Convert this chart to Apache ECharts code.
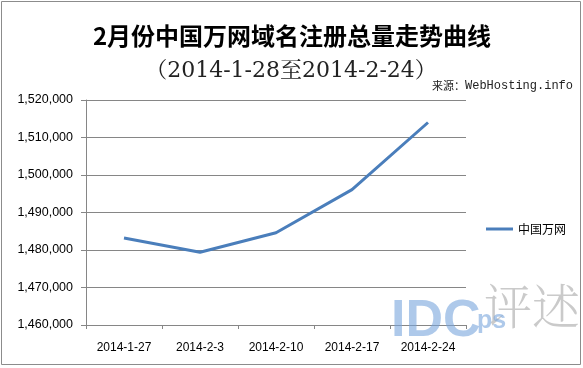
<!DOCTYPE html>
<html>
<head>
<meta charset="utf-8">
<script src="https://cdn.jsdelivr.net/npm/echarts@6/dist/echarts.min.js"></script>
<style>
html,body{margin:0;padding:0;background:#fff;}
#chart{width:583px;height:368px;}
</style>
</head>
<body>
<div id="chart"></div>
<script>
var categories = ['2014-1-27', '2014-2-3', '2014-2-10', '2014-2-17', '2014-2-24'];
var seriesName = '中国万网';
var values = [1483200, 1479400, 1484600, 1496100, 1514000];
var yMin = 1460000;
var yMax = 1520000;
var yStep = 10000;
var titleText = '2月份中国万网域名注册总量走势曲线';
var subtitleText = '（2014-1-28至2014-2-24）';
var sourceLabel = '来源：';
var sourceSite = 'WebHosting.info';

var chart = echarts.init(document.getElementById('chart'), null, {renderer: 'canvas'});
function fmt(v) { return String(v).replace(/\B(?=(\d{3})+(?!\d))/g, ','); }

chart.setOption({
  backgroundColor: '#ffffff',
  animation: false,
  title: [
    {text: titleText, left: 292, textAlign: 'center', top: 24, padding: 0,
     textStyle: {fontFamily: '"Noto Sans CJK SC", sans-serif', fontSize: 24, fontWeight: 'bold', color: '#000'}},
    {text: subtitleText, left: 291, textAlign: 'center', top: 60, padding: 0,
     textStyle: {fontFamily: '"DejaVu Serif", "Noto Serif CJK SC", "Noto Sans CJK SC", serif', fontSize: 22, fontWeight: 'normal', color: '#222'}},
    {text: '{a|' + sourceLabel + '}{b|' + sourceSite + '}', left: 432, top: 80, padding: 0,
     textStyle: {fontWeight: 'normal', rich: {
       a: {fontFamily: '"Noto Sans CJK SC", sans-serif', fontSize: 11, fontWeight: 'normal', color: '#222'},
       b: {fontFamily: '"Liberation Mono", monospace', fontSize: 12, fontWeight: 'normal', color: '#222'}
     }}}
  ],
  legend: {
    data: [seriesName], left: 481, top: 218, orient: 'vertical',
    itemWidth: 27, itemHeight: 3, itemGap: 5, icon: 'rect',
    textStyle: {fontFamily: '"Noto Sans CJK SC", sans-serif', fontSize: 12, color: '#000'}
  },
  grid: {left: 86, right: 117, top: 100, bottom: 43, containLabel: false},
  xAxis: {
    type: 'category', data: categories, boundaryGap: true,
    axisLine: {lineStyle: {color: '#868686', width: 1}},
    axisTick: {show: true, length: 4, lineStyle: {color: '#868686'}},
    axisLabel: {fontFamily: '"Liberation Sans", Arial, sans-serif', fontSize: 12, color: '#000', margin: 17}
  },
  yAxis: {
    type: 'value', min: yMin, max: yMax, interval: yStep,
    axisLine: {show: true, lineStyle: {color: '#868686', width: 1}},
    axisTick: {show: true, length: 5, lineStyle: {color: '#868686'}},
    splitLine: {show: true, lineStyle: {color: '#868686', width: 1}},
    axisLabel: {fontFamily: '"Liberation Sans", Arial, sans-serif', fontSize: 12.5, color: '#000', margin: 13, formatter: fmt}
  },
  series: [{
    name: seriesName, type: 'line', data: values, showSymbol: false, symbol: 'none',
    lineStyle: {color: '#4a7ebb', width: 3}, itemStyle: {color: '#4a7ebb'}
  }],
  graphic: [
    {type: 'rect', shape: {x: 1.5, y: 1.5, width: 579, height: 363}, style: {fill: 'none', stroke: '#8c8c8c', lineWidth: 1}, z: 100},
    {type: 'text', left: 391, top: 296, style: {text: 'IDC', font: 'bold 52px "Liberation Sans", Arial, sans-serif', fill: 'rgba(120,165,220,0.6)'}, z: 50},
    {type: 'text', left: 477, top: 309, style: {text: 'ps', font: 'bold 25px "Liberation Sans", Arial, sans-serif', fill: 'rgba(120,165,220,0.6)'}, z: 50},
    {type: 'text', left: 484, top: 282, style: {text: '评述', font: '300 48px "Noto Serif CJK SC", "Noto Sans CJK SC", sans-serif', fill: 'rgba(150,150,150,0.5)'}, z: 49}
  ]
});
</script>
</body>
</html>
